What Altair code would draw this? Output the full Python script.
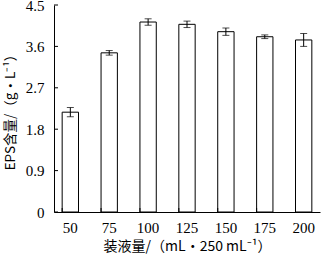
import altair as alt
import pandas as pd

volumes = ["50", "75", "100", "125", "150", "175", "200"]
eps = [2.17, 3.46, 4.13, 4.08, 3.92, 3.81, 3.74]
errs = [0.10, 0.05, 0.07, 0.07, 0.08, 0.04, 0.14]
y_ticks = [0, 0.9, 1.8, 2.7, 3.6, 4.5]

df = pd.DataFrame({"vol": volumes, "eps": eps, "err": errs})
df["lo"] = df["eps"] - df["err"]
df["hi"] = df["eps"] + df["err"]
tick_df = pd.DataFrame({"t": y_ticks})
xt_df = pd.DataFrame({"vol": volumes})

W, H = 266, 207
SERIF = "Liberation Serif"
CJK = "Noto Sans CJK SC"

xscale = alt.Scale(domain=volumes, paddingInner=0.58, paddingOuter=0.21)
yscale = alt.Scale(domain=[0, 4.5], nice=False, zero=True)

xax = alt.Axis(title="装液量/（mL•250 mL⁻¹）", labelAngle=0, ticks=False,
               labelPadding=8, titlePadding=4, domainColor="black",
               labelFont=SERIF, labelFontSize=15, labelColor="black",
               titleFont=CJK, titleFontSize=14, titleFontWeight="normal",
               titleColor="black")
yax = alt.Axis(title="EPS含量/（g•L⁻¹）", values=y_ticks, ticks=False, grid=False,
               labelPadding=10, titlePadding=8, labelFlush=False,
               labelExpr="datum.value == 0 ? '0' : format(datum.value, '.1f')",
               domainColor="black",
               labelFont=SERIF, labelFontSize=15, labelColor="black",
               titleFont=CJK, titleFontSize=13.5, titleFontWeight="normal",
               titleColor="black")

def X(**kw):
    return alt.X("vol:N", scale=xscale, sort=volumes, axis=xax, **kw)

def Y(field):
    return alt.Y(field, scale=yscale, axis=yax)

base = alt.Chart(df)
bars = base.mark_bar(fill="white", stroke="black", strokeWidth=1).encode(
    x=X(), y=Y("eps:Q"),
)
rules = base.mark_rule(color="black", strokeWidth=1).encode(
    x=X(), y=Y("lo:Q"), y2="hi:Q",
)
cap_lo = base.mark_tick(color="black", thickness=1, size=7, orient="horizontal").encode(
    x=X(), y=Y("lo:Q"))
cap_hi = base.mark_tick(color="black", thickness=1, size=7, orient="horizontal").encode(
    x=X(), y=Y("hi:Q"))

yticks = alt.Chart(tick_df).mark_rule(color="black", strokeWidth=1).encode(
    y=Y("t:Q"), x=alt.value(0), x2=alt.value(4))
xticks = alt.Chart(xt_df).mark_rule(color="black", strokeWidth=1).encode(
    x=X(bandPosition=0),
    y=alt.value(H), y2=alt.value(H - 4))

chart = alt.layer(bars, rules, cap_lo, cap_hi, yticks, xticks).properties(
    width=W, height=H,
    autosize=alt.AutoSizeParams(type="none"),
    padding={"left": 54, "top": 5, "right": 1, "bottom": 46},
    background="white",
).configure_view(stroke=None)

chart.save("out.html", embed_options={"renderer": "svg", "actions": False})
